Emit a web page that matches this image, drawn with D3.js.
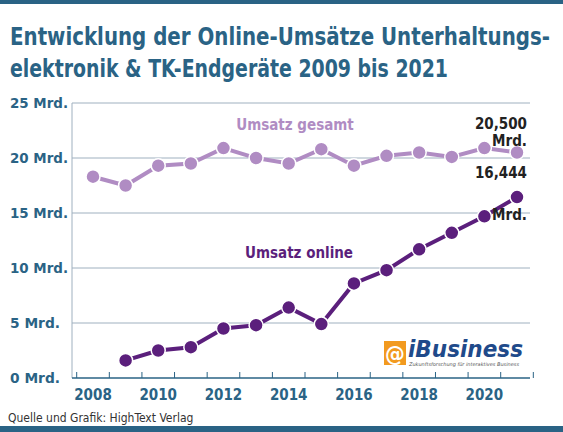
<!DOCTYPE html><html><head><meta charset="utf-8"><script src="https://cdn.jsdelivr.net/npm/d3@7"></script>
<style>body{margin:0;background:#fff}text{font-family:"DejaVu Sans Condensed","DejaVu Sans",sans-serif}</style></head><body><svg id="c" width="563" height="432"></svg>
<script>
const years=[2008,2009,2010,2011,2012,2013,2014,2015,2016,2017,2018,2019,2020,2021];
const gesamt=[18.3,17.5,19.3,19.5,20.9,20.0,19.5,20.8,19.3,20.2,20.5,20.1,20.9,20.5];
const onlineYears=[2009,2010,2011,2012,2013,2014,2015,2016,2017,2018,2019,2020,2021];
const online=[1.6,2.5,2.8,4.5,4.8,6.4,4.9,8.6,9.8,11.7,13.2,14.7,16.444];
const yTicks=[0,5,10,15,20,25];
const xTicks=[2008,2010,2012,2014,2016,2018,2020];
const svg=d3.select("#c");
const teal="#2a6385",light="#b08cc3",dark="#5b1f7c";
svg.append("rect").attr("width",563).attr("height",4).attr("fill",teal);
svg.append("rect").attr("y",426).attr("width",563).attr("height",6).attr("fill",teal);
svg.append("text").attr("x",10).attr("y",45).attr("fill",teal).attr("font-size",22).attr("font-weight","bold").attr("textLength",540).attr("lengthAdjust","spacingAndGlyphs").attr("transform","translate(10,45) scale(1,1.14) translate(-10,-45)").text("Entwicklung der Online-Umsätze Unterhaltungs-");
svg.append("text").attr("x",10).attr("y",77).attr("fill",teal).attr("font-size",22).attr("font-weight","bold").attr("textLength",438).attr("lengthAdjust","spacingAndGlyphs").attr("transform","translate(10,77) scale(1,1.14) translate(-10,-77)").text("elektronik & TK-Endgeräte 2009 bis 2021");
const x=d3.scaleLinear().domain([2008,2021]).range([93,517]);
const y=d3.scaleLinear().domain([0,25]).range([378,103]);
yTicks.forEach(t=>{
 if(t>0)svg.append("line").attr("x1",72).attr("x2",530).attr("y1",y(t)).attr("y2",y(t)).attr("stroke","#9fb0bf").attr("stroke-width",1);
 svg.append("text").attr("x",10).attr("y",y(t)+5).attr("fill",teal).attr("font-size",14).attr("font-weight","bold").attr("textLength",t>=10?58:50).attr("lengthAdjust","spacingAndGlyphs").text(t+" Mrd.");
});
svg.append("line").attr("x1",72).attr("x2",72).attr("y1",103).attr("y2",378).attr("stroke","#9fb0bf");
svg.append("line").attr("x1",72).attr("x2",530).attr("y1",378).attr("y2",378).attr("stroke",teal).attr("stroke-width",1.5);
d3.range(2008,2023).forEach(t=>{const xx=x(t)-16.3;svg.append("line").attr("x1",xx).attr("x2",xx).attr("y1",372).attr("y2",378).attr("stroke",teal);});
xTicks.forEach(t=>svg.append("text").attr("x",x(t)).attr("y",400).attr("text-anchor","middle").attr("fill",teal).attr("font-size",15).attr("font-weight","bold").text(t));
const line=d3.line().x(d=>x(d[0])).y(d=>y(d[1]));
function series(xs,vs,c){const d=xs.map((a,i)=>[a,vs[i]]);
 svg.append("path").datum(d).attr("d",line).attr("fill","none").attr("stroke",c).attr("stroke-width",4);
 svg.selectAll(null).data(d).enter().append("circle").attr("cx",a=>x(a[0])).attr("cy",a=>y(a[1])).attr("r",7).attr("fill",c).attr("stroke","#fff").attr("stroke-width",1.5);}
series(years,gesamt,light);series(onlineYears,online,dark);
svg.append("text").attr("x",295).attr("y",130).attr("text-anchor","middle").attr("fill",light).attr("font-size",15).attr("font-weight","bold").text("Umsatz gesamt");
svg.append("text").attr("x",299).attr("y",258).attr("text-anchor","middle").attr("fill",dark).attr("font-size",15).attr("font-weight","bold").text("Umsatz online");
const lab=(t,xx,yy)=>svg.append("text").attr("x",xx).attr("y",yy).attr("text-anchor","end").attr("fill","#222").attr("font-size",15).attr("font-weight","bold").text(t);
lab("20,500",527,129);lab("Mrd.",527,146);lab("16,444",527,178);lab("Mrd.",527,220);
svg.append("rect").attr("x",384).attr("y",341).attr("width",22).attr("height",24).attr("fill","#f29a1f");
svg.append("text").attr("x",395).attr("y",361).attr("text-anchor","middle").attr("fill","#fff").attr("font-size",22).attr("font-weight","bold").text("@");
svg.append("text").attr("x",408).attr("y",357).attr("fill","#1f4a8a").attr("font-size",20).attr("font-weight","bold").attr("font-style","italic").attr("font-family","Liberation Sans").attr("textLength",115).attr("lengthAdjust","spacingAndGlyphs").attr("transform","translate(408,357) scale(1,1.15) translate(-408,-357)").text("iBusiness");
svg.append("text").attr("x",409).attr("y",366).attr("fill","#555").attr("font-size",5).attr("font-style","italic").attr("textLength",110).attr("lengthAdjust","spacingAndGlyphs").text("Zukunftsforschung für interaktives Business");
svg.append("text").attr("x",8).attr("y",422).attr("fill","#333").attr("font-size",12).text("Quelle und Grafik: HighText Verlag");
</script></body></html>
